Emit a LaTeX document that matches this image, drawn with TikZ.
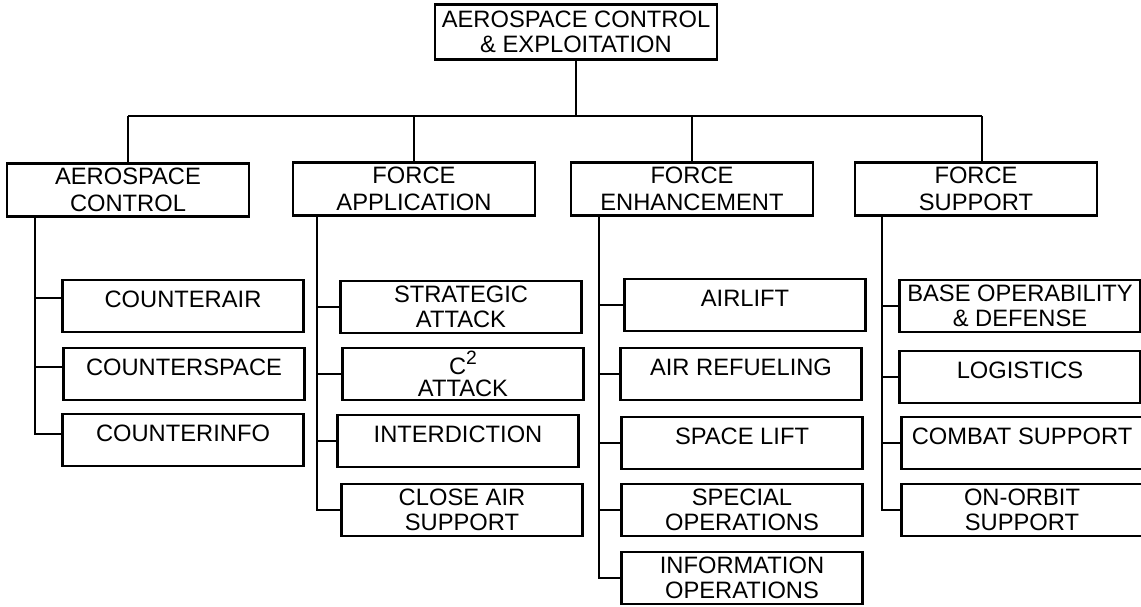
\documentclass[tikz,border=0pt]{standalone}
\usepackage{fontspec}
\setmainfont{Liberation Sans}
\usepackage{tikz}

\begin{document}
\begin{tikzpicture}[x=0.02cm,y=-0.02cm,line width=1.2pt,font=\fontsize{13.5}{14}\selectfont]
\tikzset{
  topbox/.style={draw,line width=1.5pt,inner sep=0pt,minimum width=5.64cm,minimum height=1.1cm,align=center},
  areabox/.style={draw,line width=1.5pt,inner sep=0pt,minimum width=4.84cm,minimum height=1.07cm,align=center,font=\fontsize{13.5}{15}\selectfont},
  taskbox/.style={draw,line width=1.5pt,inner sep=0pt,minimum width=4.82cm,minimum height=1.04cm},
  taskone/.style={taskbox,text height=9.6pt,text depth=8pt},
  tasktwo/.style={taskbox,align=center}
}
\useasboundingbox (0,0) rectangle (1141,606);
% top of the tree
\node[topbox] (top) at (576,32) {AEROSPACE CONTROL\\\& EXPLOITATION};
\coordinate (bus) at (576,116);
\node[areabox] (ac) at (128,190) {AEROSPACE\\CONTROL};
\node[areabox] (fa) at (414,189) {FORCE\\APPLICATION};
\node[areabox] (fe) at (692,189) {FORCE\\ENHANCEMENT};
\node[areabox] (fs) at (976,189) {FORCE\\SUPPORT};
% aerospace control
\node[taskone] (cair) at (183,306) {COUNTERAIR};
\node[taskone] (cspace) at (184,374) {COUNTERSPACE};
\node[taskone] (cinfo) at (183,440) {COUNTERINFO};
% force application
\node[tasktwo] (strat) at (461,307) {STRATEGIC\\ATTACK};
\node[tasktwo] (ctwo) at (463,374) {C\raisebox{0.42em}{\fontsize{11}{11}\selectfont 2}\\[-1.5pt]ATTACK};
\node[taskone] (interd) at (458,441) {INTERDICTION};
\node[tasktwo] (cas) at (462,510) {CLOSE AIR\\SUPPORT};
% force enhancement
\node[taskone] (airlift) at (745,305) {AIRLIFT};
\node[taskone] (airref) at (741,374) {AIR REFUELING};
\node[taskone] (spacelift) at (742,443) {SPACE LIFT};
\node[tasktwo] (specops) at (742,510) {SPECIAL\\OPERATIONS};
\node[tasktwo] (infoops) at (742,578) {INFORMATION\\OPERATIONS};
% force support
\node[tasktwo] (baseops) at (1020,306) {BASE OPERABILITY\\\& DEFENSE};
\node[taskone] (logist) at (1020,377) {LOGISTICS};
\node[taskone] (combat) at (1022,443) {COMBAT SUPPORT};
\node[tasktwo] (orbit) at (1022,510) {ON-ORBIT\\SUPPORT};
% bus lines
\draw (top.south) -- (bus);
\draw (ac.north |- bus) -- ([xshift=0.12cm]fs.north |- bus);
\foreach \n in {ac,fa,fe}
  \draw (\n.north) -- (\n.north |- bus);
\draw ([xshift=0.12cm]fs.north) -- ([xshift=0.12cm]fs.north |- bus);
% branches
\coordinate (bcair) at ([yshift=0.16cm]cair.west);
\coordinate (bcspace) at ([yshift=0.14cm]cspace.west);
\coordinate (bcinfo) at ([yshift=0.12cm]cinfo.west);
\draw (ac.south west) ++(29,0) coordinate (ta) |- (bcinfo);
\draw (ta |- bcair) -- (bcair);
\draw (ta |- bcspace) -- (bcspace);
\draw (fa.south west) ++(25,0) coordinate (tb) |- (cas.west);
\foreach \n in {strat,ctwo,interd}
  \draw (tb |- \n.west) -- (\n.west);
\draw (fe.south west) ++(29,0) coordinate (tc) |- (infoops.west);
\foreach \n in {airlift,airref,spacelift,specops}
  \draw (tc |- \n.west) -- (\n.west);
\draw (fs.south west) ++(28,0) coordinate (td) |- (orbit.west);
\foreach \n in {baseops,logist,combat}
  \draw (td |- \n.west) -- (\n.west);
\end{tikzpicture}
\end{document}
